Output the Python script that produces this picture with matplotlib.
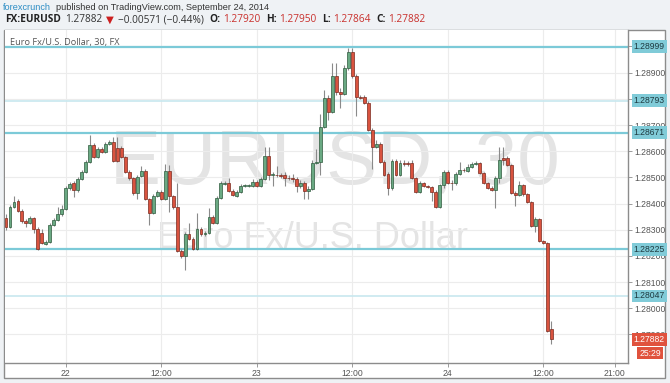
import matplotlib
matplotlib.use('Agg')
import matplotlib.pyplot as plt
from matplotlib.patches import Rectangle
from matplotlib.transforms import IdentityTransform
from matplotlib.ticker import FormatStrFormatter
import numpy as np

# EURUSD 30 min candles, Sept 21 (evening) .. Sept 24 2014
opens = [1.28345, 1.28311, 1.28387, 1.28410, 1.28372, 1.28334, 1.28326, 1.28345, 1.28303, 1.28288,
         1.28246, 1.28254, 1.28319, 1.28338, 1.28360, 1.28380, 1.28460, 1.28479, 1.28452, 1.28494,
         1.28521, 1.28559, 1.28624, 1.28578, 1.28609, 1.28597, 1.28628, 1.28636, 1.28613, 1.28613,
         1.28578, 1.28521, 1.28498, 1.28441, 1.28506, 1.28525, 1.28418, 1.28364, 1.28429, 1.28445,
         1.28418, 1.28525, 1.28429, 1.28387, 1.28219, 1.28200, 1.28284, 1.28265, 1.28227, 1.28303,
         1.28284, 1.28288, 1.28349, 1.28326, 1.28422, 1.28475, 1.28479, 1.28448, 1.28429, 1.28445,
         1.28467, 1.28467, 1.28467, 1.28483, 1.28467, 1.28494, 1.28582, 1.28510, 1.28510, 1.28510,
         1.28510, 1.28498, 1.28498, 1.28494, 1.28467, 1.28479, 1.28448, 1.28456, 1.28555, 1.28559,
         1.28693, 1.28804, 1.28750, 1.28888, 1.28827, 1.28819, 1.28918, 1.28979, 1.28888, 1.28807,
         1.28807, 1.28784, 1.28681, 1.28616, 1.28628, 1.28559, 1.28513, 1.28460, 1.28563, 1.28510,
         1.28555, 1.28555, 1.28555, 1.28498, 1.28445, 1.28479, 1.28467, 1.28464, 1.28445, 1.28387,
         1.28471, 1.28521, 1.28479, 1.28479, 1.28513, 1.28529, 1.28525, 1.28540, 1.28551, 1.28555,
         1.28517, 1.28479, 1.28460, 1.28452, 1.28498, 1.28574, 1.28574, 1.28548, 1.28441, 1.28433,
         1.28471, 1.28437, 1.28406, 1.28315, 1.28341, 1.28257, 1.28250, 1.27920]
highs = [1.28360, 1.28395, 1.28429, 1.28418, 1.28380, 1.28341, 1.28353, 1.28349, 1.28311, 1.28303,
         1.28261, 1.28326, 1.28345, 1.28387, 1.28395, 1.28467, 1.28483, 1.28487, 1.28502, 1.28529,
         1.28567, 1.28662, 1.28632, 1.28616, 1.28616, 1.28636, 1.28643, 1.28655, 1.28655, 1.28620,
         1.28582, 1.28529, 1.28502, 1.28510, 1.28544, 1.28532, 1.28422, 1.28437, 1.28452, 1.28452,
         1.28551, 1.28548, 1.28433, 1.28479, 1.28227, 1.28292, 1.28326, 1.28273, 1.28364, 1.28311,
         1.28296, 1.28383, 1.28357, 1.28429, 1.28487, 1.28487, 1.28498, 1.28456, 1.28452, 1.28475,
         1.28475, 1.28475, 1.28494, 1.28490, 1.28502, 1.28616, 1.28616, 1.28521, 1.28544, 1.28517,
         1.28521, 1.28510, 1.28513, 1.28502, 1.28490, 1.28487, 1.28467, 1.28567, 1.28609, 1.28742,
         1.28834, 1.28815, 1.28937, 1.28937, 1.28842, 1.28930, 1.28995, 1.28995, 1.28895, 1.28815,
         1.28815, 1.28792, 1.28689, 1.28643, 1.28636, 1.28567, 1.28521, 1.28571, 1.28571, 1.28567,
         1.28567, 1.28563, 1.28567, 1.28502, 1.28487, 1.28483, 1.28471, 1.28467, 1.28452, 1.28475,
         1.28529, 1.28529, 1.28490, 1.28521, 1.28559, 1.28536, 1.28551, 1.28559, 1.28563, 1.28559,
         1.28521, 1.28483, 1.28467, 1.28506, 1.28616, 1.28616, 1.28582, 1.28551, 1.28448, 1.28487,
         1.28475, 1.28441, 1.28410, 1.28349, 1.28345, 1.28261, 1.28254, 1.27950]
lows = [1.28299, 1.28307, 1.28383, 1.28368, 1.28326, 1.28311, 1.28322, 1.28288, 1.28223, 1.28246,
        1.28242, 1.28250, 1.28315, 1.28334, 1.28353, 1.28376, 1.28452, 1.28425, 1.28445, 1.28490,
        1.28517, 1.28555, 1.28574, 1.28574, 1.28594, 1.28594, 1.28624, 1.28559, 1.28559, 1.28574,
        1.28517, 1.28490, 1.28433, 1.28418, 1.28502, 1.28414, 1.28319, 1.28360, 1.28425, 1.28414,
        1.28414, 1.28368, 1.28380, 1.28215, 1.28192, 1.28147, 1.28261, 1.28223, 1.28223, 1.28277,
        1.28277, 1.28284, 1.28322, 1.28322, 1.28418, 1.28471, 1.28445, 1.28429, 1.28425, 1.28441,
        1.28464, 1.28464, 1.28464, 1.28464, 1.28464, 1.28490, 1.28490, 1.28467, 1.28502, 1.28498,
        1.28467, 1.28490, 1.28483, 1.28445, 1.28460, 1.28418, 1.28418, 1.28452, 1.28551, 1.28510,
        1.28689, 1.28720, 1.28746, 1.28815, 1.28765, 1.28815, 1.28911, 1.28880, 1.28735, 1.28800,
        1.28781, 1.28678, 1.28532, 1.28613, 1.28555, 1.28506, 1.28433, 1.28452, 1.28506, 1.28506,
        1.28544, 1.28544, 1.28494, 1.28441, 1.28441, 1.28464, 1.28460, 1.28410, 1.28383, 1.28383,
        1.28460, 1.28475, 1.28452, 1.28471, 1.28510, 1.28521, 1.28521, 1.28536, 1.28548, 1.28513,
        1.28475, 1.28456, 1.28448, 1.28383, 1.28479, 1.28548, 1.28544, 1.28437, 1.28391, 1.28429,
        1.28429, 1.28403, 1.28311, 1.28292, 1.28254, 1.28246, 1.27910, 1.27864]
closes = [1.28311, 1.28387, 1.28406, 1.28372, 1.28334, 1.28326, 1.28345, 1.28303, 1.28227, 1.28250,
          1.28254, 1.28319, 1.28338, 1.28360, 1.28380, 1.28460, 1.28475, 1.28452, 1.28494, 1.28521,
          1.28559, 1.28624, 1.28578, 1.28609, 1.28597, 1.28628, 1.28636, 1.28563, 1.28563, 1.28578,
          1.28521, 1.28498, 1.28441, 1.28502, 1.28525, 1.28418, 1.28364, 1.28429, 1.28445, 1.28418,
          1.28525, 1.28429, 1.28387, 1.28219, 1.28200, 1.28284, 1.28265, 1.28227, 1.28303, 1.28284,
          1.28288, 1.28349, 1.28326, 1.28422, 1.28479, 1.28479, 1.28448, 1.28433, 1.28445, 1.28467,
          1.28471, 1.28471, 1.28483, 1.28467, 1.28494, 1.28582, 1.28510, 1.28513, 1.28508, 1.28506,
          1.28498, 1.28496, 1.28494, 1.28467, 1.28479, 1.28448, 1.28456, 1.28555, 1.28559, 1.28693,
          1.28804, 1.28750, 1.28888, 1.28827, 1.28819, 1.28918, 1.28979, 1.28888, 1.28807, 1.28805,
          1.28784, 1.28681, 1.28616, 1.28628, 1.28559, 1.28510, 1.28460, 1.28563, 1.28510, 1.28555,
          1.28551, 1.28551, 1.28498, 1.28445, 1.28479, 1.28467, 1.28464, 1.28445, 1.28387, 1.28471,
          1.28521, 1.28479, 1.28477, 1.28513, 1.28529, 1.28527, 1.28540, 1.28551, 1.28555, 1.28517,
          1.28479, 1.28460, 1.28452, 1.28498, 1.28567, 1.28567, 1.28548, 1.28441, 1.28433, 1.28471,
          1.28437, 1.28406, 1.28315, 1.28341, 1.28257, 1.28250, 1.27914, 1.27882]

levels = [1.28999, 1.28793, 1.28671, 1.28225, 1.28047]
level_strong = [True, False, True, True, False]
last_price = 1.27882
countdown = '25:29'

time_ticks = [15, 39, 63, 87, 111, 135, 153]
time_labels = ['22', '12:00', '23', '12:00', '24', '12:00', '21:00']

W, H = 670, 383
UP, UP_EDGE = '#6aa983', '#2e5a3d'
DN, DN_EDGE = '#d9533f', '#7a2a1f'
FONT = 'Liberation Sans'
HEAD = 'Open Sans'


def fx(px):
    return px / W


def fy(py):
    return 1 - py / H


fig = plt.figure(figsize=(W / 100, H / 100), dpi=100, facecolor='#eff2f5')

# white chart frame
frame = Rectangle((fx(4), fy(378)), fx(665) - fx(4), fy(30) - fy(378),
                  transform=fig.transFigure, fc='white', ec='#8c8c8c', lw=1, zorder=-1)
fig.patches.append(frame)

ax = fig.add_axes([fx(5), fy(363), fx(628) - fx(5), fy(30) - fy(363)])
ax.set_facecolor('white')
ax.set_xlim(-0.25, 156.3)
ax.set_ylim(1.27791, 1.29063)

for s in ['top', 'left']:
    ax.spines[s].set_visible(False)
for s in ['right', 'bottom']:
    ax.spines[s].set_color('#8c8c8c')
    ax.spines[s].set_linewidth(1)

ax.yaxis.tick_right()
ax.set_yticks(np.arange(1.279, 1.2905, 0.001))
ax.yaxis.set_major_formatter(FormatStrFormatter('%.5f'))
ax.set_xticks(time_ticks)
ax.set_xticklabels(time_labels)
ax.tick_params(axis='both', labelsize=6.2, labelcolor='#555555', color='#8c8c8c',
               length=3, width=0.6, pad=1.5)
for lab in ax.get_xticklabels() + ax.get_yticklabels():
    lab.set_family(FONT)
ax.grid(True, color='#ececec', lw=0.8)
ax.set_axisbelow(True)

# watermark
ax.text(0.53, 0.54, 'EURUSD, 30', transform=ax.transAxes, ha='center', va='baseline',
        fontsize=55, color='#e4e4e4', family=FONT, zorder=0.5)
ax.text(0.494, 0.345, 'Euro Fx/U.S. Dollar', transform=ax.transAxes, ha='center',
        va='baseline', fontsize=26, color='#e4e4e4', family=FONT, zorder=0.5)

# support / resistance lines
for lv, strong in zip(levels, level_strong):
    ax.axhline(lv, color='#7ccad8' if strong else '#c8e8ef', lw=1.6 if strong else 1.2, zorder=1)

# candles
x = np.arange(len(closes))
o = np.array(opens)
c = np.array(closes)
up = c >= o
ax.vlines(x, lows, highs, color='#8a8a8a', lw=0.8, zorder=2)
body_h = np.maximum(np.abs(c - o), 0.000015)
ax.bar(x, body_h, bottom=np.minimum(o, c), width=0.72,
       color=np.where(up, UP, DN), edgecolor=np.where(up, UP_EDGE, DN_EDGE), lw=0.5, zorder=3)

# right-hand price labels
ytr = ax.get_yaxis_transform()
box = dict(boxstyle='square,pad=0.22', ec='none')
for lv, strong in zip(levels, level_strong):
    ax.text(1.009, lv, f'{lv:.5f}', transform=ytr, ha='left', va='center', fontsize=6.2,
            color='#1e3a40', family=FONT, clip_on=False, zorder=6,
            bbox=dict(box, fc='#80cbd8'))
ax.text(1.009, last_price, f'{last_price:.5f}', transform=ytr, ha='left', va='center',
        fontsize=6.2, color='white', family=FONT, clip_on=False, zorder=6,
        bbox=dict(box, fc='#e0523d'))
fig.text(661 / W, fy(353), countdown, ha='right', va='center', fontsize=6.2, color='white',
         family=FONT, zorder=6, bbox=dict(box, fc='#e0523d'))

# chart caption inside the frame
fig.text(fx(10), fy(42), 'Euro Fx/U.S. Dollar, 30, FX', fontsize=6.6, color='#555555',
         va='center', family=HEAD)

# header rows, each part placed after the previous one
renderer = fig.canvas.get_renderer()


def row(parts, x0, y_top, size):
    xpos = x0
    for txt, col, weight, fam, gap in parts:
        t = fig.text(xpos, H - y_top, txt, transform=IdentityTransform(), fontsize=size,
                     color=col, fontweight=weight, family=fam, va='center', ha='left')
        bb = t.get_window_extent(renderer=renderer)
        xpos = bb.x1 + gap


row([('forexcrunch', '#2b8cc4', 'normal', FONT, 5),
     ('published on TradingView.com, September 24, 2014', '#333333', 'normal', FONT, 0)],
    3, 7, 6.6)

RED = '#c9302c'
row([('FX:EURUSD', '#222222', 'bold', HEAD, 4),
     ('1.27882', '#333333', 'normal', HEAD, 4),
     ('\u25bc', '#cc1f1f', 'normal', 'DejaVu Sans', 4),
     ('\u22120.00571 (\u22120.44%)', '#333333', 'normal', HEAD, 6),
     ('O:', '#222222', 'bold', HEAD, 2),
     ('1.27920', RED, 'normal', HEAD, 6),
     ('H:', '#222222', 'bold', HEAD, 2),
     ('1.27950', RED, 'normal', HEAD, 6),
     ('L:', '#222222', 'bold', HEAD, 2),
     ('1.27864', RED, 'normal', HEAD, 6),
     ('C:', '#222222', 'bold', HEAD, 2),
     ('1.27882', RED, 'normal', HEAD, 0)],
    5, 20, 7.3)

fig.savefig('out.png', dpi=100, facecolor=fig.get_facecolor())
